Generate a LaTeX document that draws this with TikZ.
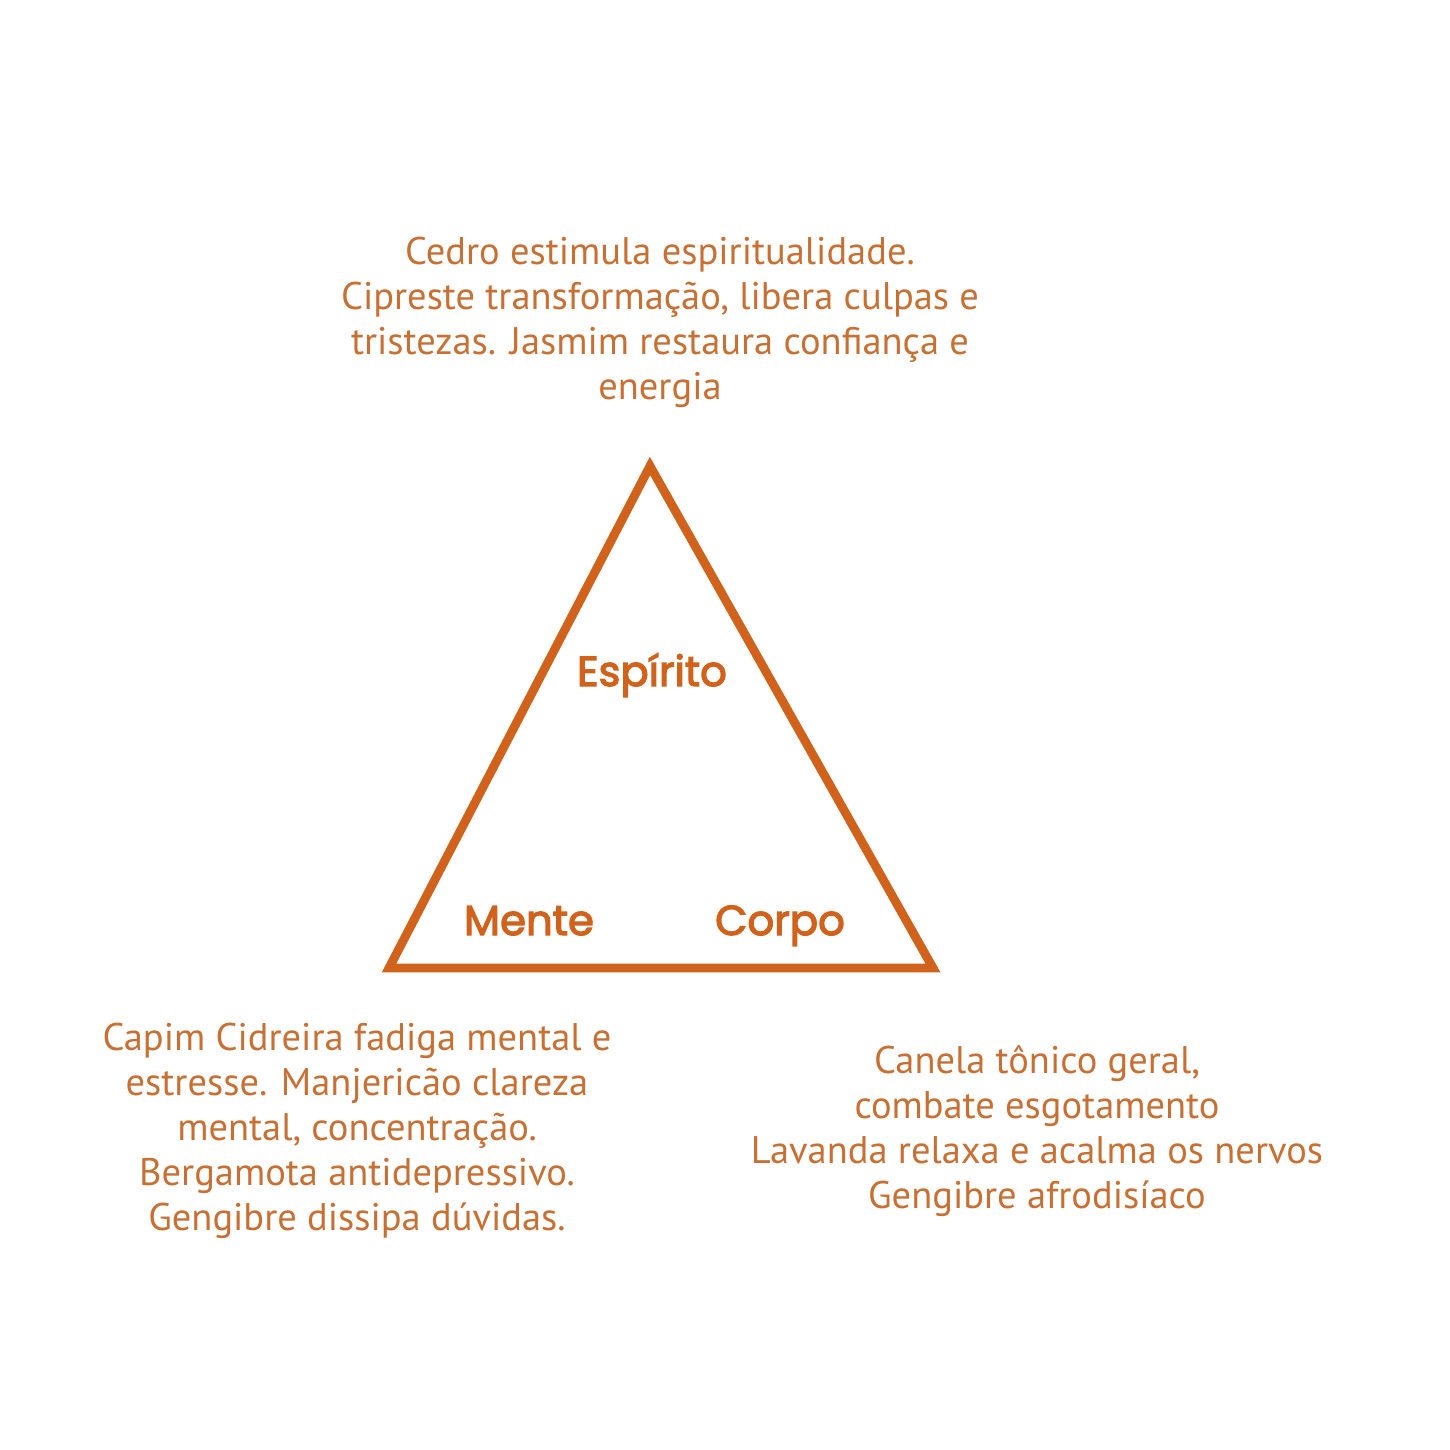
\documentclass[tikz,border=0pt]{standalone}
\usepackage{fontspec}
\setmainfont{PT Sans}
\newfontfamily\corefont{Poppins}[FakeBold=3]
\usepackage{xcolor}
\usetikzlibrary{positioning}

\definecolor{textorange}{RGB}{200,112,52}
\definecolor{lineorange}{RGB}{208,98,28}

\begin{document}
\begin{tikzpicture}[
  note/.style={align=center, text=textorange, font=\fontsize{21.9}{25.6}\selectfont, inner sep=0pt},
  core/.style={anchor=base, text=lineorange, font=\corefont\fontsize{23.8}{26}\selectfont, inner sep=0pt},
  edge/.style={draw=lineorange, line width=5pt, line join=miter}
]
\useasboundingbox (0,0) rectangle (29,-29);

% corners of the triangle
\coordinate (apex) at (13,-9.32);
\coordinate (leftc) at (7.78,-19.36);
\coordinate (rightc) at (18.66,-19.36);
\draw[edge] (apex) -- (leftc) -- (rightc) -- cycle;

\node[core] (espirito) at (13.04,-13.72) {Espírito};
\node[core] (mente) at (10.58,-18.7) {Mente};
\node[core] (corpo) at (15.6,-18.7) {Corpo};

\node[note] (spirit) at (13.2,-6.45) {Cedro estimula espiritualidade.\\ Cipreste transformação, libera culpas e\\ tristezas. Jasmim restaura confiança e\\ energia};
\node[note] (mind) at (7.14,-22.62) {Capim Cidreira fadiga mental e\\ estresse. Manjericão clareza\\ mental, concentração.\\ Bergamota antidepressivo.\\ Gengibre dissipa dúvidas.};
\node[note] (body) at (20.74,-22.62) {Canela tônico geral,\\ combate esgotamento\\ Lavanda relaxa e acalma os nervos\\ Gengibre afrodisíaco};
\end{tikzpicture}
\end{document}
